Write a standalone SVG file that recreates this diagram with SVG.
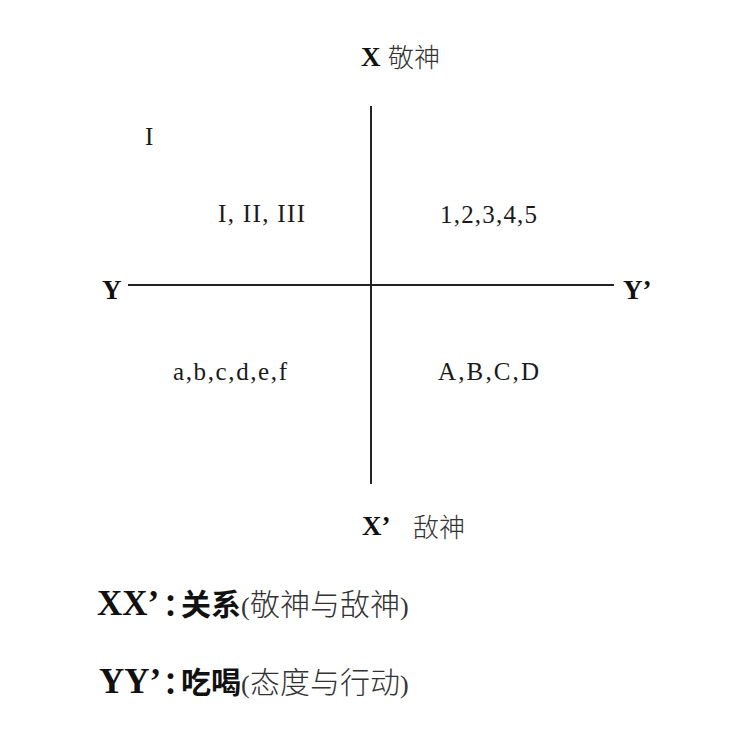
<svg xmlns="http://www.w3.org/2000/svg" width="752" height="736" viewBox="0 0 752 736">
<style>
.t{font-family:"Liberation Serif",serif;font-size:25px;fill:#1a1a1a}
.b{font-family:"Liberation Serif",serif;font-size:27px;font-weight:bold;fill:#111}
.lg{font-family:"Liberation Serif","Noto Sans CJK SC",serif;font-size:26px;fill:#333}
.lb{font-size:35px;font-weight:bold;fill:#111}
.cj{font-family:"Noto Sans CJK SC",sans-serif;font-size:26px;font-weight:300;fill:#333}
.cjl{font-family:"Noto Sans CJK SC",sans-serif;font-size:30px;font-weight:300;fill:#333}
.cjb{font-family:"Noto Sans CJK SC",sans-serif;font-size:30px;font-weight:bold;fill:#111}
.col{letter-spacing:-12px}
.ax{stroke:#222;stroke-width:2;fill:none}
</style>
<rect width="752" height="736" fill="#ffffff"/>
<g id="connectors">
<line class="ax" x1="371" y1="106" x2="371" y2="484"/>
<line class="ax" x1="128" y1="285" x2="614" y2="285"/>
</g>
<g id="node-x"><text class="b" x="361" y="66">X</text><text class="cj" x="388" y="67">敬神</text></g>
<g id="node-xp"><text class="b" x="362" y="535">X’</text><text class="cj" x="413" y="537">敌神</text></g>
<g id="node-y"><text class="b" x="102" y="299">Y</text></g>
<g id="node-yp"><text class="b" x="623" y="299">Y’</text></g>
<g id="node-i"><text class="t" x="145" y="145">I</text></g>
<g id="node-q1"><text class="t" x="218" y="222" textLength="87">I, II, III</text></g>
<g id="node-q2"><text class="t" x="440" y="223" textLength="97">1,2,3,4,5</text></g>
<g id="node-q3"><text class="t" x="173" y="380" textLength="114">a,b,c,d,e,f</text></g>
<g id="node-q4"><text class="t" x="438" y="380" textLength="101">A,B,C,D</text></g>
<g id="legend-xx">
<text class="lg" y="615"><tspan class="lb" x="97">XX’</tspan><tspan class="cjb col" x="163">：</tspan><tspan class="cjb" x="181">关系</tspan><tspan x="241">(</tspan><tspan class="cjl" x="250">敬神与敌神</tspan><tspan x="400">)</tspan></text>
</g>
<g id="legend-yy">
<text class="lg" y="693"><tspan class="lb" x="99">YY’</tspan><tspan class="cjb col" x="163">：</tspan><tspan class="cjb" x="181">吃喝</tspan><tspan x="241">(</tspan><tspan class="cjl" x="250">态度与行动</tspan><tspan x="400">)</tspan></text>
</g>
</svg>
